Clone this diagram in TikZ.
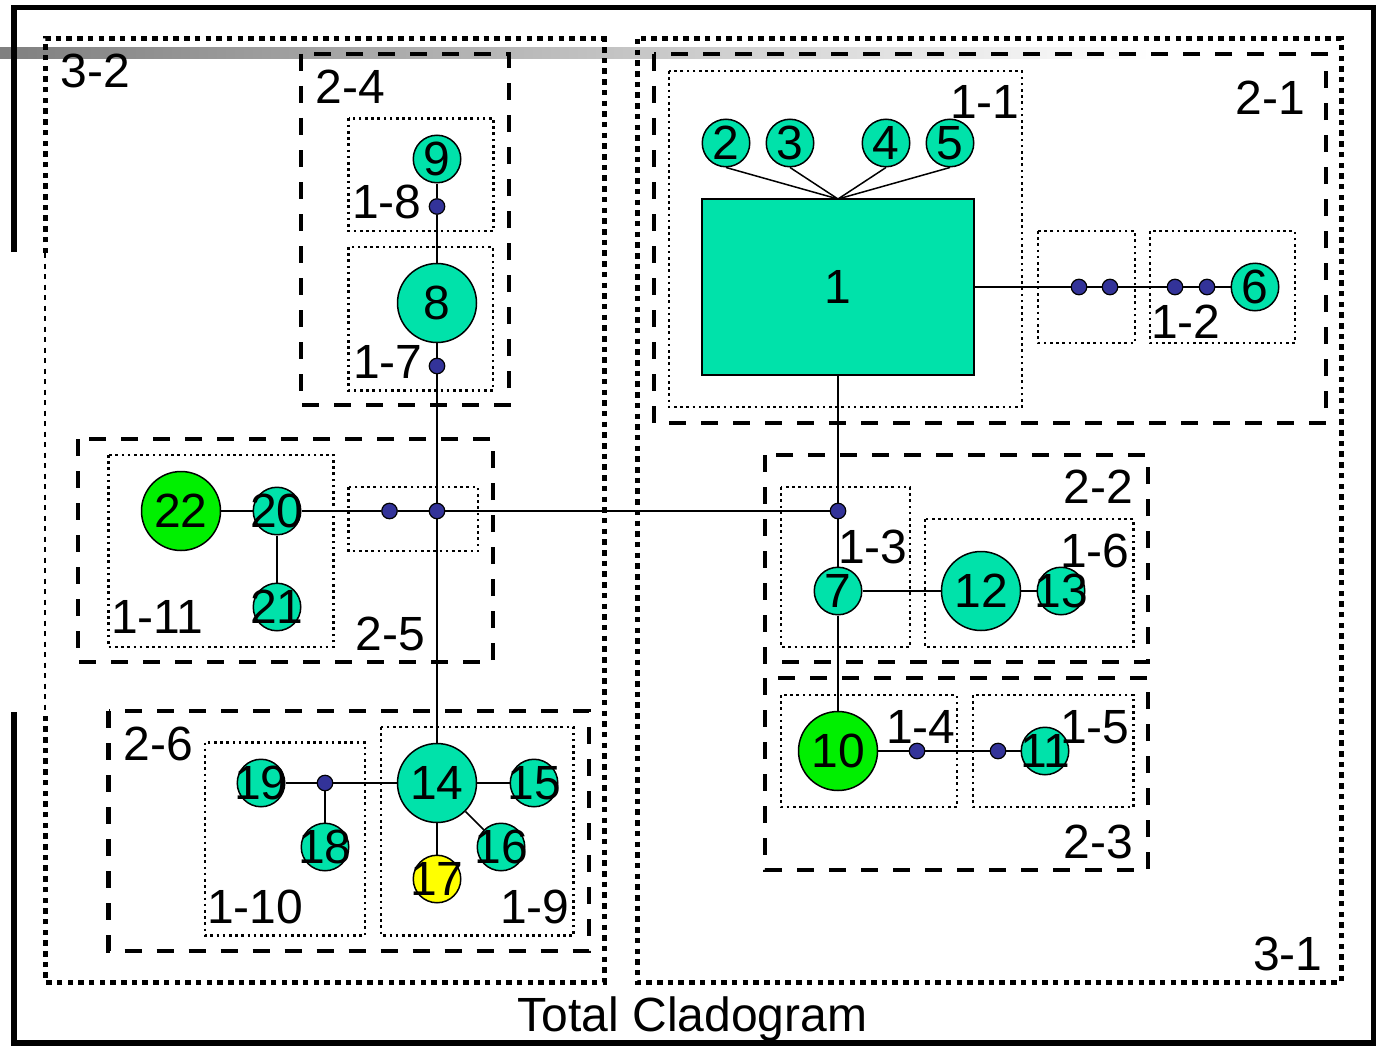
\documentclass[tikz,border=0pt]{standalone}
\usepackage{fontspec}
\setmainfont{Liberation Sans}
\definecolor{teal0}{RGB}{0,226,170}
\definecolor{green0}{RGB}{0,240,0}
\definecolor{navy0}{RGB}{51,51,153}
\definecolor{yellow0}{RGB}{255,255,0}
\tikzset{
 lbl/.style={font=\fontsize{48}{52}\selectfont, inner sep=0pt, outer sep=0pt},
 tnode/.style={circle, draw, line width=1.5pt, fill=teal0, minimum size=47.5pt, inner sep=0pt},
 bnode/.style={tnode, minimum size=79pt},
 dnode/.style={circle, draw, line width=1.2pt, fill=navy0, minimum size=15.5pt, inner sep=0pt},
 conn/.style={line width=1.5pt},
 thickdot/.style={line width=5pt, dash pattern=on 5.5pt off 5.2pt},
 dashbox/.style={line width=4.5pt, dash pattern=on 17pt off 15pt},
 dotbox/.style={line width=2.6pt, dash pattern=on 2.6pt off 3.6pt},
 frameline/.style={line width=5.5pt, line join=miter},
}
\begin{document}
\begin{tikzpicture}[x=1pt, y=-1pt]
\useasboundingbox (0,0) rectangle (1380,1046);
\fill[white] (0,0) rectangle (1380,1046);
% gray bar
\shade[left color=black!50, right color=white] (0,48) rectangle (1150,59);
% frame
\draw[frameline] (14,252) -- (14,7.5) -- (1373.5,7.5) -- (1373.5,1043) -- (14,1043) -- (14,712);

% level 3 boxes
\draw[thickdot] (45,253) -- (45,39) -- (604,39) -- (604,982) -- (45,982) -- (45,712);
\draw[line width=2.5pt, dash pattern=on 5pt off 5.5pt] (45,253) -- (45,712);
\draw[thickdot] (637,39) rectangle (1341,982);

% level 2 boxes
\draw[dashbox] (654,54) rectangle (1326,423);
\draw[dashbox] (301,54) rectangle (509,405);
\draw[dashbox] (78,439) rectangle (493,662);
\draw[dashbox] (108.5,711) rectangle (589,951);
\draw[dashbox] (765,455) rectangle (1148,662);
\draw[dashbox] (765,678) rectangle (1148,870);

% level 1 boxes
\draw[dotbox] (669,71) rectangle (1022,407);
\draw[dotbox] (1038,231) rectangle (1135,343);
\draw[dotbox] (1150,231) rectangle (1295,343);
\draw[dotbox] (348.5,118.5) rectangle (493.5,231);
\draw[dotbox] (348.5,247) rectangle (493,390.5);
\draw[dotbox] (348.5,487) rectangle (478,551);
\draw[dotbox] (108.5,455) rectangle (333.5,647);
\draw[dotbox] (205,742.5) rectangle (365,935.5);
\draw[dotbox] (381,727) rectangle (573.5,935.5);
\draw[dotbox] (781,487) rectangle (910,647);
\draw[dotbox] (925,519) rectangle (1133.5,647);
\draw[dotbox] (781,695) rectangle (957,807);
\draw[dotbox] (973,695) rectangle (1133.5,807);

% nodes
\node[draw, line width=1.5pt, fill=teal0, minimum width=272pt, minimum height=176pt, inner sep=0pt, lbl] (n1) at (838,287) {1};
\node[tnode, label={[lbl]center:2}] (n2) at (726,143) {};
\node[tnode, label={[lbl]center:3}] (n3) at (790,143) {};
\node[tnode, label={[lbl]center:4}] (n4) at (886,143) {};
\node[tnode, label={[lbl]center:5}] (n5) at (950,143) {};
\node[dnode] (d1) at (1079,287) {};
\node[dnode] (d2) at (1110,287) {};
\node[dnode] (d3) at (1175,287) {};
\node[dnode] (d4) at (1207,287) {};
\node[tnode, label={[lbl]center:6}] (n6) at (1255,287) {};

\node[dnode] (dj) at (838,511) {};
\node[tnode, label={[lbl]center:7}] (n7) at (838,591) {};
\node[bnode, label={[lbl]center:12}] (n12) at (981,591) {};
\node[tnode, label={[lbl]center:13}] (n13) at (1061,591) {};
\node[bnode, fill=green0, label={[lbl]center:10}] (n10) at (838,751) {};
\node[dnode] (d5) at (917,751) {};
\node[dnode] (d6) at (998,751) {};
\node[tnode, label={[lbl]center:11}] (n11) at (1045,751) {};

\node[tnode, label={[lbl]center:9}] (n9) at (437,159) {};
\node[dnode] (d7) at (437,206.5) {};
\node[bnode, label={[lbl]center:8}] (n8) at (437,303) {};
\node[dnode] (d8) at (437,366) {};
\node[dnode] (d9) at (389.5,511) {};
\node[dnode] (d10) at (437,511) {};
\node[bnode, fill=green0, label={[lbl]center:22}] (n22) at (181,511) {};
\node[tnode, label={[lbl]center:20}] (n20) at (277,511) {};
\node[tnode, label={[lbl]center:21}] (n21) at (277,607) {};

\node[bnode, label={[lbl]center:14}] (n14) at (437,783) {};
\node[tnode, label={[lbl]center:15}] (n15) at (534,783) {};
\node[tnode, label={[lbl]center:16}] (n16) at (501,847) {};
\node[tnode, fill=yellow0, label={[lbl]center:17}] (n17) at (437,879) {};
\node[tnode, label={[lbl]center:19}] (n19) at (261,783) {};
\node[dnode] (d11) at (325,783) {};
\node[tnode, label={[lbl]center:18}] (n18) at (325,847) {};

% connectors
\draw[conn] (n2.south) -- (n1.north);
\draw[conn] (n3.south) -- (n1.north);
\draw[conn] (n4.south) -- (n1.north);
\draw[conn] (n5.south) -- (n1.north);
\draw[conn] (n1) -- (d1) -- (d2) -- (d3) -- (d4) -- (n6);
\draw[conn] (n1) -- (dj);
\draw[conn] (dj) -- (n7);
\draw[conn] (n7) -- (n10);
\draw[conn] (n7) -- (n12);
\draw[conn] (n12) -- (n13);
\draw[conn] (n10) -- (d5) -- (d6) -- (n11);
\draw[conn] (n9) -- (d7) -- (n8) -- (d8) -- (d10) -- (n14);
\draw[conn] (n22) -- (n20);
\draw[conn] (n20) -- (n21);
\draw[conn] (n20) -- (d9) -- (d10) -- (dj);
\draw[conn] (n19) -- (d11) -- (n14);
\draw[conn] (d11) -- (n18);
\draw[conn] (n14) -- (n15);
\draw[conn] (n14) -- (n16);
\draw[conn] (n14) -- (n17);

% labels
\node[lbl, anchor=base west] (t32) at (60.5,88) {3-2};
\node[lbl, anchor=base west] (t31) at (1253,970) {3-1};
\node[lbl, anchor=base west] (t21) at (1235.5,114) {2-1};
\node[lbl, anchor=base west] (t24) at (315.5,103) {2-4};
\node[lbl, anchor=base west] (t25) at (355.5,650) {2-5};
\node[lbl, anchor=base west] (t26) at (123.5,760) {2-6};
\node[lbl, anchor=base west] (t22) at (1063.5,503) {2-2};
\node[lbl, anchor=base west] (t23) at (1063.5,858) {2-3};
\node[lbl, anchor=base west] (t11) at (950,118) {1-1};
\node[lbl, anchor=base west] (t12) at (1151,338) {1-2};
\node[lbl, anchor=base west] (t13) at (838,563) {1-3};
\node[lbl, anchor=base west] (t14) at (886,743) {1-4};
\node[lbl, anchor=base west] (t15) at (1060,743) {1-5};
\node[lbl, anchor=base west] (t16) at (1060,567) {1-6};
\node[lbl, anchor=base west] (t17) at (353,378) {1-7};
\node[lbl, anchor=base west] (t18) at (352,218) {1-8};
\node[lbl, anchor=base west] (t19) at (500,923) {1-9};
\node[lbl, anchor=base west] (t110) at (207,923) {1-10};
\node[lbl, anchor=base west] (t111) at (111,633) {1-11};
\node[lbl, anchor=base] (title) at (692.5,1031) {Total Cladogram};
\end{tikzpicture}
\end{document}
